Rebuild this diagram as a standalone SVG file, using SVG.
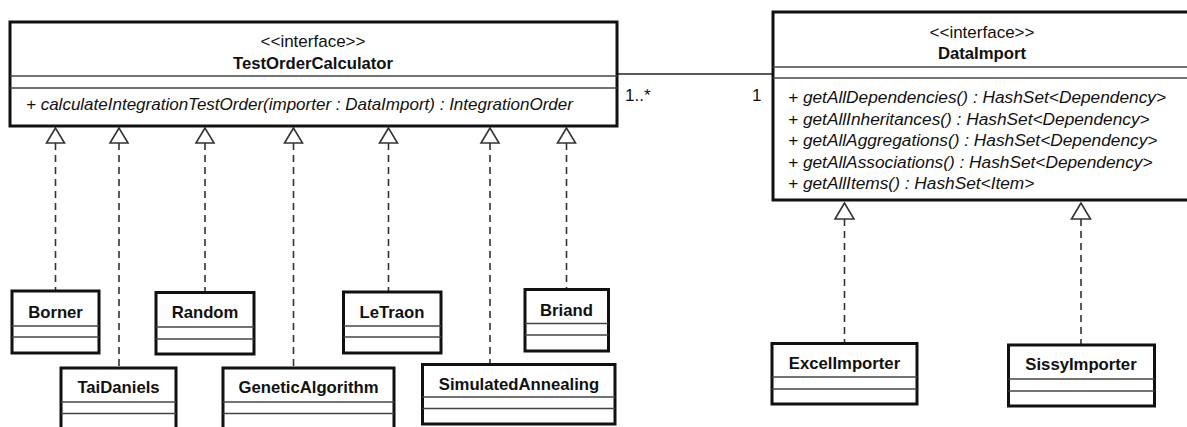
<svg xmlns="http://www.w3.org/2000/svg" width="1187" height="427" viewBox="0 0 1187 427">
<defs>
<style>
.box{fill:#fff;stroke:#111;stroke-width:3}
.sep{stroke:#444;stroke-width:1.6;fill:none}
.t{font-family:"Liberation Sans",Arial,sans-serif;font-size:17px;fill:#111}
.b{font-weight:bold;font-size:16.7px}
.i{font-style:italic}
.r{font-size:17.3px}
.m{text-anchor:middle}
.dash{stroke:#333;stroke-width:1.6;stroke-dasharray:7,5;fill:none}
.tri{fill:#fff;stroke:#333;stroke-width:1.6}
.assoc{stroke:#222;stroke-width:1.6;fill:none}
</style>
</defs>
<rect width="1187" height="427" fill="#fff"/>
<g id="connectors">
<line class="assoc" x1="617" y1="74" x2="774" y2="74"/>
<text class="t" x="625" y="101" font-size="16">1..*</text>
<text class="t" x="752" y="101" font-size="16">1</text>
<line class="dash" x1="55.5" y1="143" x2="55.5" y2="291"/>
<polygon class="tri" points="55.5,128 46.5,143 64.5,143"/>
<line class="dash" x1="119" y1="143" x2="119" y2="368"/>
<polygon class="tri" points="119,128 110,143 128,143"/>
<line class="dash" x1="205" y1="143" x2="205" y2="292"/>
<polygon class="tri" points="205,128 196,143 214,143"/>
<line class="dash" x1="293.5" y1="143" x2="293.5" y2="368"/>
<polygon class="tri" points="293.5,128 284.5,143 302.5,143"/>
<line class="dash" x1="388.5" y1="143" x2="388.5" y2="292"/>
<polygon class="tri" points="388.5,128 379.5,143 397.5,143"/>
<line class="dash" x1="490" y1="143" x2="490" y2="364"/>
<polygon class="tri" points="490,128 481,143 499,143"/>
<line class="dash" x1="566.5" y1="143" x2="566.5" y2="289"/>
<polygon class="tri" points="566.5,128 557.5,143 575.5,143"/>
<line class="dash" x1="844.5" y1="219" x2="844.5" y2="343"/>
<polygon class="tri" points="844.5,203 835,219 854,219"/>
<line class="dash" x1="1081" y1="219" x2="1081" y2="345"/>
<polygon class="tri" points="1081,203 1071.5,219 1090.5,219"/>
</g>
<g id="TestOrderCalculator">
<rect class="box" x="10" y="22" width="607" height="104"/>
<line class="sep" x1="10" y1="76" x2="617" y2="76"/>
<line class="sep" x1="10" y1="88" x2="617" y2="88"/>
<text class="t m" x="313" y="47">&lt;&lt;interface&gt;&gt;</text>
<text class="t b m" x="313" y="69">TestOrderCalculator</text>
<text class="t i" x="26" y="110">+ calculateIntegrationTestOrder(importer : DataImport) : IntegrationOrder</text>
</g>
<g id="DataImport">
<rect class="box" x="773" y="12" width="420" height="188"/>
<line class="sep" x1="773" y1="67" x2="1193" y2="67"/>
<line class="sep" x1="773" y1="78" x2="1193" y2="78"/>
<text class="t m" x="982" y="38">&lt;&lt;interface&gt;&gt;</text>
<text class="t b m" x="982" y="59">DataImport</text>
<text class="t i r" x="788" y="103">+ getAllDependencies() : HashSet&lt;Dependency&gt;</text>
<text class="t i r" x="788" y="124.5">+ getAllInheritances() : HashSet&lt;Dependency&gt;</text>
<text class="t i r" x="788" y="146">+ getAllAggregations() : HashSet&lt;Dependency&gt;</text>
<text class="t i r" x="788" y="167.5">+ getAllAssociations() : HashSet&lt;Dependency&gt;</text>
<text class="t i r" x="788" y="189">+ getAllItems() : HashSet&lt;Item&gt;</text>
</g>
<g id="Borner">
<rect class="box" x="12" y="291" width="87" height="62"/>
<line class="sep" x1="12" y1="326" x2="99" y2="326"/>
<line class="sep" x1="12" y1="337" x2="99" y2="337"/>
<text class="t b m" x="55.5" y="318">Borner</text>
</g>
<g id="Random">
<rect class="box" x="156" y="292.5" width="98" height="61.5"/>
<line class="sep" x1="156" y1="327" x2="254" y2="327"/>
<line class="sep" x1="156" y1="339" x2="254" y2="339"/>
<text class="t b m" x="205" y="318">Random</text>
</g>
<g id="TaiDaniels">
<rect class="box" x="61" y="368" width="115" height="62"/>
<line class="sep" x1="61" y1="402" x2="176" y2="402"/>
<line class="sep" x1="61" y1="413.5" x2="176" y2="413.5"/>
<text class="t b m" x="118.5" y="393">TaiDaniels</text>
</g>
<g id="GeneticAlgorithm">
<rect class="box" x="223" y="368" width="171" height="62"/>
<line class="sep" x1="223" y1="402" x2="394" y2="402"/>
<line class="sep" x1="223" y1="413.5" x2="394" y2="413.5"/>
<text class="t b m" x="308.5" y="393">GeneticAlgorithm</text>
</g>
<g id="LeTraon">
<rect class="box" x="343.5" y="292" width="97.5" height="61"/>
<line class="sep" x1="343.5" y1="326" x2="441" y2="326"/>
<line class="sep" x1="343.5" y1="337" x2="441" y2="337"/>
<text class="t b m" x="392" y="318">LeTraon</text>
</g>
<g id="Briand">
<rect class="box" x="525" y="289.5" width="83.5" height="61.5"/>
<line class="sep" x1="525" y1="323.5" x2="608.5" y2="323.5"/>
<line class="sep" x1="525" y1="335" x2="608.5" y2="335"/>
<text class="t b m" x="566.5" y="316">Briand</text>
</g>
<g id="SimulatedAnnealing">
<rect class="box" x="422.5" y="364.5" width="192.5" height="59.5"/>
<line class="sep" x1="422.5" y1="397" x2="615" y2="397"/>
<line class="sep" x1="422.5" y1="408.5" x2="615" y2="408.5"/>
<text class="t b m" x="519" y="389.5">SimulatedAnnealing</text>
</g>
<g id="ExcelImporter">
<rect class="box" x="772" y="343.5" width="145" height="60.5"/>
<line class="sep" x1="772" y1="377" x2="917" y2="377"/>
<line class="sep" x1="772" y1="389" x2="917" y2="389"/>
<text class="t b m" x="844.5" y="369">ExcelImporter</text>
</g>
<g id="SissyImporter">
<rect class="box" x="1008.5" y="345" width="146" height="61"/>
<line class="sep" x1="1008.5" y1="379" x2="1154.5" y2="379"/>
<line class="sep" x1="1008.5" y1="391" x2="1154.5" y2="391"/>
<text class="t b m" x="1081" y="370">SissyImporter</text>
</g>
</svg>
